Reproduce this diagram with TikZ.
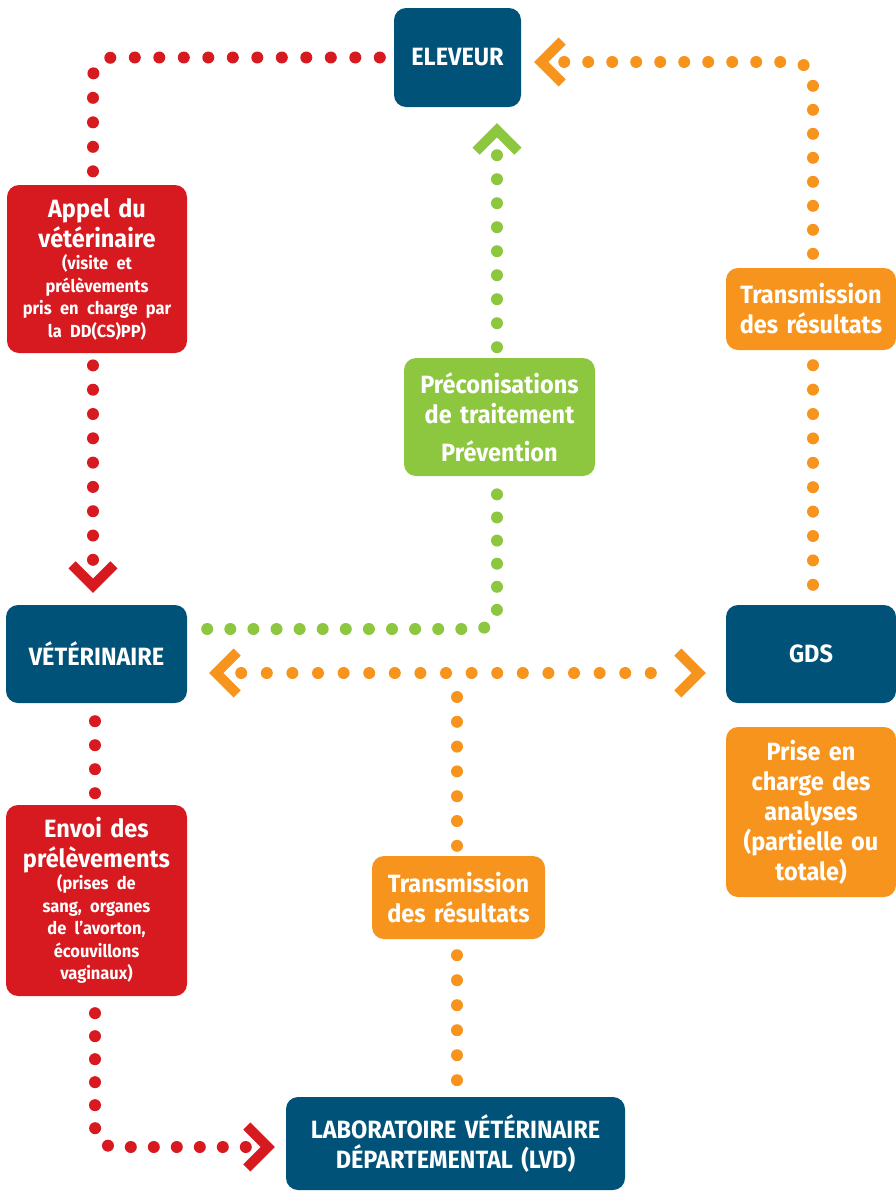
\documentclass[tikz,border=0pt]{standalone}
\usepackage{fontspec}
\setmainfont{Fira Sans}[FakeStretch=0.94]
\usetikzlibrary{positioning}
\definecolor{dblue}{RGB}{0,82,120}
\definecolor{rred}{RGB}{215,25,32}
\definecolor{oorange}{RGB}{247,148,29}
\definecolor{ggreen}{RGB}{141,198,63}
\newcommand\bigtxt{\fontsize{25}{30}\selectfont}
\newcommand\smalltxt{\fontsize{17.5}{22.5}\selectfont}
\tikzset{
  box/.style={rounded corners=12pt, inner sep=0pt, align=center, text=white,
    font=\bfseries\bigtxt},
  bluebox/.style={box, fill=dblue},
  redbox/.style={box, fill=rred},
  orangebox/.style={box, fill=oorange},
  greenbox/.style={box, fill=ggreen},
  dotline/.style={line width=12pt, line cap=round, dash pattern=on 0pt off #1},
  dotline/.default=24.5pt,
  chevron/.pic={\draw[line width=10pt, line cap=butt, line join=miter] (-28,-21) -- (-7,0) -- (-28,21);}
}
\begin{document}
\begin{tikzpicture}[x=1pt,y=-1pt]
\useasboundingbox (0,0) rectangle (895,1192);

% boxes
\node[bluebox, text width=127pt, minimum height=99pt] (eleveur) at (457.5,57.5) {ELEVEUR};
\node[redbox, text width=180pt, minimum height=168pt] (appel) at (97,269)
  {Appel du\\vétérinaire\par\smalltxt (visite et\\prélèvements\\pris en charge par\\la DD(CS)PP)\par};
\node[bluebox, text width=181pt, minimum height=98pt] (vet) at (96.5,654) {VÉTÉRINAIRE};
\node[redbox, text width=181pt, minimum height=191pt] (envoi) at (96.5,900.5)
  {Envoi des\\prélèvements\par\smalltxt (prises de\\sang, organes\\de l’avorton,\\écouvillons\\vaginaux)\par};
\node[bluebox, text width=339pt, minimum height=93pt] (lvd) at (455.5,1143.5)
  {LABORATOIRE VÉTÉRINAIRE\\DÉPARTEMENTAL (LVD)};
\node[greenbox, text width=191pt, minimum height=118pt] (precon) at (499.5,417)
  {Préconisations\\de traitement\\[8pt]Prévention};
\node[orangebox, text width=170pt, minimum height=82pt] (trans1) at (811,309)
  {Transmission\\des résultats};
\node[bluebox, text width=170pt, minimum height=98pt] (gds) at (811,654) {GDS};
\node[orangebox, text width=170pt, minimum height=170pt] (prise) at (811,812)
  {Prise en\\charge des\\analyses\\(partielle ou\\totale)};
\node[orangebox, text width=173pt, minimum height=83pt] (trans2) at (458.5,897.5)
  {Transmission\\des résultats};

% red connectors
\draw[rred, dotline, rounded corners=20pt] ([xshift=-14pt]eleveur.west) -| ([xshift=-4pt,yshift=13pt]appel.north);
\draw[rred, dotline=24.3pt] ([xshift=-3.5pt,yshift=45pt]vet.north) -- ([xshift=-4pt,yshift=-12pt]appel.south);
\pic[rred, rotate=-90] at ([xshift=-3.5pt,yshift=12pt]vet.north) {chevron};
\draw[rred, dotline=24pt] ([xshift=-1.5pt,yshift=-18pt]vet.south) -- ([xshift=-1.5pt,yshift=11.5pt]envoi.north);
\draw[rred, dotline=23pt, rounded corners=20pt] ([xshift=-40pt,yshift=-3.5pt]lvd.west) -| ([xshift=-1.5pt,yshift=-14pt]envoi.south);
\pic[rred] at ([xshift=-11pt,yshift=-3.5pt]lvd.west) {chevron};

% green connectors
\draw[ggreen, dotline=24pt] ([xshift=39.5pt,yshift=-48pt]eleveur.south) -- ([xshift=-2.5pt,yshift=10.5pt]precon.north);
\pic[ggreen, rotate=90] at ([xshift=39.5pt,yshift=-16pt]eleveur.south) {chevron};
\draw[ggreen, dotline=23.1pt, rounded corners=20pt] ([xshift=20pt,yshift=25pt]vet.east) -| ([xshift=-2.5pt,yshift=-16pt]precon.south);

% orange connectors
\draw[oorange, dotline=24.4pt] ([xshift=2pt,yshift=20pt]gds.north) -- ([xshift=2pt,yshift=-15pt]trans1.south);
\draw[oorange, dotline=24pt, rounded corners=20pt] ([xshift=43pt,yshift=-4.5pt]eleveur.east) -| ([xshift=2pt,yshift=13pt]trans1.north);
\pic[oorange, rotate=180] at ([xshift=13pt,yshift=-4.5pt]eleveur.east) {chevron};
\draw[oorange, dotline=25.6pt] ([xshift=54pt,yshift=-19pt]vet.east) -- ([xshift=-50pt,yshift=-19pt]gds.west);
\pic[oorange, rotate=180] at ([xshift=22pt,yshift=-19pt]vet.east) {chevron};
\pic[oorange] at ([xshift=-20pt,yshift=-19pt]gds.west) {chevron};
\coordinate (j) at (457,673);
\draw[oorange, dotline=24.8pt, shorten <=24pt] (j) -- ([xshift=-1.5pt,yshift=10pt]trans2.north);
\draw[oorange, dotline=25pt] ([xshift=-1.5pt,yshift=-16pt]trans2.south) -- ([xshift=1.5pt,yshift=16.5pt]lvd.north);
\end{tikzpicture}
\end{document}
